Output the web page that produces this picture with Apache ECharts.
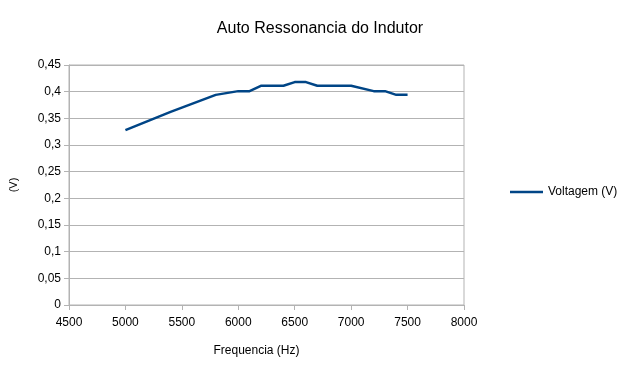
<!DOCTYPE html>
<html>
<head>
<meta charset="utf-8">
<script src="https://cdn.jsdelivr.net/npm/echarts@6/dist/echarts.min.js"></script>
<style>html,body{margin:0;padding:0;background:#fff}#c{width:640px;height:380px}</style>
</head>
<body>
<div id="c"></div>
<script>
const frequencies = [5000, 5400, 5800, 6000, 6100, 6200, 6400, 6500, 6600, 6700, 7000, 7200, 7300, 7400, 7500];
const voltages = [0.328, 0.362, 0.394, 0.401, 0.401, 0.411, 0.411, 0.418, 0.418, 0.411, 0.411, 0.401, 0.401, 0.394, 0.394];
const seriesName = 'Voltagem (V)';
const titleText = 'Auto Ressonancia do Indutor';
const xName = 'Frequencia (Hz)';
const yName = '(V)';

const chart = echarts.init(document.getElementById('c'));
const font = 'Liberation Sans, Arial, sans-serif';
chart.setOption({
  animation: false,
  backgroundColor: '#fff',
  title: {
    text: titleText, left: 'center', top: 16,
    textStyle: { fontFamily: font, fontSize: 16, fontWeight: 'normal', color: '#000' }
  },
  legend: {
    data: [seriesName], left: 505, top: 181, itemWidth: 33, itemHeight: 10, itemGap: 4,
    icon: 'path://M0,0 L1,0 L1,0.08 L0,0.08 Z',
    textStyle: { fontFamily: font, fontSize: 12, color: '#000' }
  },
  grid: { left: 67, right: 176, top: 65, bottom: 75, show: true, borderColor: '#b3b3b3', borderWidth: 1 },
  xAxis: {
    type: 'value', min: 4500, max: 8000, interval: 500,
    name: xName, nameLocation: 'middle', nameGap: 40,
    nameTextStyle: { fontFamily: font, fontSize: 12, color: '#000', padding: [0, 20, 0, 0] },
    axisLine: { show: true, lineStyle: { color: '#b3b3b3' } },
    axisTick: { show: true, length: 5, lineStyle: { color: '#b3b3b3' } },
    axisLabel: { fontFamily: font, fontSize: 12, color: '#000', margin: 12, formatter: v => String(v) },
    splitLine: { show: false }
  },
  yAxis: {
    type: 'value', min: 0, max: 0.45, interval: 0.05,
    name: yName, nameLocation: 'middle', nameGap: 50, nameRotate: 90,
    nameTextStyle: { fontFamily: font, fontSize: 11, color: '#000' },
    axisLine: { show: true, lineStyle: { color: '#b3b3b3' } },
    axisTick: { show: true, length: 5, lineStyle: { color: '#b3b3b3' } },
    axisLabel: {
      fontFamily: font, fontSize: 12, color: '#000', margin: 8,
      formatter: v => String(parseFloat(v.toFixed(2))).replace('.', ',')
    },
    splitLine: { show: true, lineStyle: { color: '#b3b3b3' } }
  },
  series: [{
    name: seriesName, type: 'line', showSymbol: false, symbol: 'none',
    data: frequencies.map((f, i) => [f, voltages[i]]),
    lineStyle: { color: '#004586', width: 2.5 },
    itemStyle: { color: '#004586' }
  }]
});
</script>
</body>
</html>
